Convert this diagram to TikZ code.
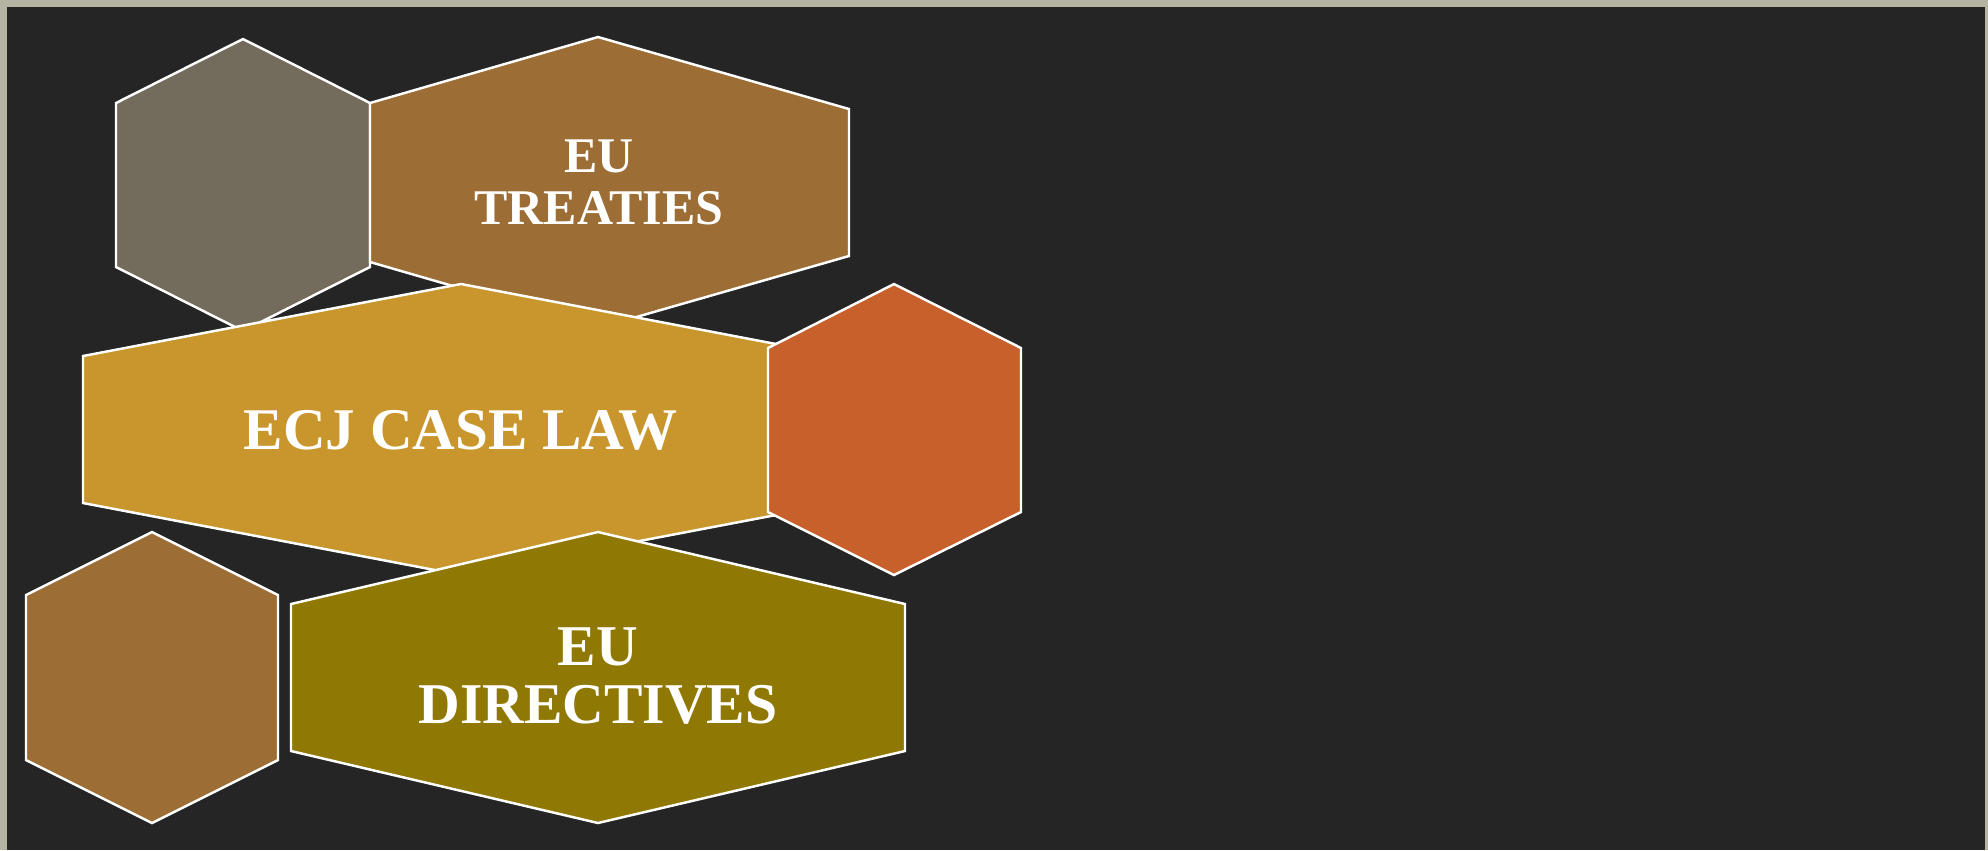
\documentclass[tikz,border=0pt]{standalone}
\usepackage{fontspec}
\setmainfont{Liberation Serif}
\definecolor{frame}{HTML}{B5B3A1}
\definecolor{board}{HTML}{252525}
\definecolor{stone}{HTML}{736C5C}
\definecolor{bronze}{HTML}{9C6D34}
\definecolor{gold}{HTML}{C9962D}
\definecolor{rust}{HTML}{C8602C}
\definecolor{olive}{HTML}{8F7904}

\begin{document}
\begin{tikzpicture}[
    x=0.01cm, y=-0.01cm,
    cell/.style={draw=white, line width=0.7pt, line join=miter},
    caption/.style={text=white, align=center, inner sep=0pt}
]

% Background and frame
\fill[frame] (0,0) rectangle (1988,850);
\fill[board] (7,7) rectangle (1985,850);
\useasboundingbox (0,0) rectangle (1988,850);

% Top row
\filldraw[cell, fill=stone] (243,39) -- (370,103) -- (370,267) -- (243,331) -- (116,267) -- (116,103) -- cycle;
\filldraw[cell, fill=bronze] (598,37) -- (849,109) -- (849,256) -- (598,328) -- (370,262) -- (370,103) -- cycle;
\node[caption, font={\fontsize{14.2}{14.8}\selectfont\bfseries}] (treaties) at (599,182.5) {EU\\TREATIES};

% Middle row
\filldraw[cell, fill=gold] (461,284) -- (839,356) -- (839,503) -- (461,575) -- (83,503) -- (83,356) -- cycle;
\node[caption, anchor=base, font={\fontsize{16.8}{17}\selectfont\bfseries}] (caselaw) at (460.5,449) {ECJ CASE LAW};
\filldraw[cell, fill=rust] (894,284) -- (1021,348) -- (1021,512) -- (894,575) -- (768,512) -- (768,348) -- cycle;

% Bottom row
\filldraw[cell, fill=bronze] (152,532) -- (278,595) -- (278,760) -- (152,823) -- (26,760) -- (26,595) -- cycle;
\filldraw[cell, fill=olive] (598,532) -- (905,604) -- (905,751) -- (598,823) -- (291,751) -- (291,604) -- cycle;
\node[caption, font={\fontsize{16.4}{16.5}\selectfont\bfseries}] (directives) at (598,676) {EU\\DIRECTIVES};

\end{tikzpicture}
\end{document}
